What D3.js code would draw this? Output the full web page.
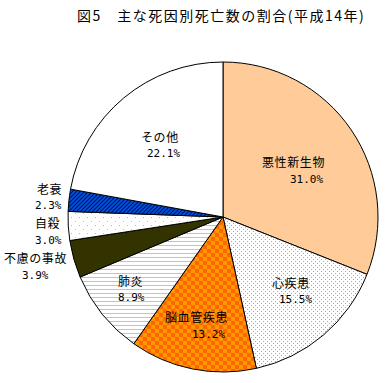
<!DOCTYPE html>
<html><head><meta charset="utf-8">
<script src="https://cdn.jsdelivr.net/npm/d3@7/dist/d3.min.js"></script>
<style>body{margin:0;background:#fff}svg{display:block}</style>
</head><body>
<script>
const title = "図5　主な死因別死亡数の割合(平成14年)";
const categories = ["悪性新生物","心疾患","脳血管疾患","肺炎","不慮の事故","自殺","老衰","その他"];
const values = [31.0, 15.5, 13.2, 8.9, 3.9, 3.0, 2.3, 22.1];
const pctLabels = ["31.0%","15.5%","13.2%","8.9%","3.9%","3.0%","2.3%","22.1%"];

// label layout (name x, name y, pct x, pct y)
const labelLayout = [
  [262,167, 290,183],
  [272,288, 279,303],
  [165,322, 192,338],
  [118,286, 118,301],
  [4,263, 22,279],
  [35,228, 35,244],
  [37,194, 35,209],
  [141,142, 147,157]
];
const fills = ["#FFCC99","url(#pDots)","url(#pCheck)","url(#pLines)","#333300","url(#pTan)","url(#pHatch)","#FFFFFF"];

const W=391,H=383, cx=223, cy=217, R=155;
const svg=d3.select("body").append("svg").attr("width",W).attr("height",H);
const defs=svg.append("defs");
// purple dots
let p=defs.append("pattern").attr("id","pDots").attr("patternUnits","userSpaceOnUse").attr("width",4).attr("height",4);
p.append("rect").attr("width",4).attr("height",4).attr("fill","#fff");
p.append("rect").attr("x",0).attr("y",0).attr("width",1).attr("height",1).attr("fill","#A89CD8");
p.append("rect").attr("x",2).attr("y",2).attr("width",1).attr("height",1).attr("fill","#A89CD8");
// checker
p=defs.append("pattern").attr("id","pCheck").attr("patternUnits","userSpaceOnUse").attr("width",8).attr("height",8);
p.append("rect").attr("width",8).attr("height",8).attr("fill","#FF9900");
p.append("rect").attr("width",4).attr("height",4).attr("fill","#FF6600");
p.append("rect").attr("x",4).attr("y",4).attr("width",4).attr("height",4).attr("fill","#FF6600");
// lines
p=defs.append("pattern").attr("id","pLines").attr("patternUnits","userSpaceOnUse").attr("width",4).attr("height",4);
p.append("rect").attr("width",4).attr("height",4).attr("fill","#fff");
p.append("rect").attr("y",0).attr("width",4).attr("height",1).attr("fill","#99CCFF");
// tan dots
p=defs.append("pattern").attr("id","pTan").attr("patternUnits","userSpaceOnUse").attr("width",8).attr("height",8);
p.append("rect").attr("width",8).attr("height",8).attr("fill","#fff");
p.append("rect").attr("x",0).attr("y",0).attr("width",1).attr("height",1).attr("fill","#FFAA55");
p.append("rect").attr("x",4).attr("y",4).attr("width",1).attr("height",1).attr("fill","#FFAA55");
// hatch
p=defs.append("pattern").attr("id","pHatch").attr("patternUnits","userSpaceOnUse").attr("width",4).attr("height",4);
p.append("rect").attr("width",4).attr("height",4).attr("fill","#0055DD");
p.append("path").attr("d","M-1,1 L1,-1 M0,4 L4,0 M3,5 L5,3").attr("stroke","#001166").attr("stroke-width",1.2);

svg.append("text").attr("x",77).attr("y",21).attr("font-family","'Noto Sans CJK JP'").attr("font-size",14).attr("letter-spacing",1.5).attr("fill","#000").text(title);

const pie=d3.pie().sort(null).value(d=>d)(values);
const arc=d3.arc().innerRadius(0).outerRadius(R);
const g=svg.append("g").attr("transform",`translate(${cx},${cy})`);
g.selectAll("path").data(pie).join("path").attr("d",arc).attr("fill",(d,i)=>fills[i]).attr("stroke","#000").attr("stroke-width",1);

const lg=svg.append("g");
categories.forEach((c,i)=>{
  const L=labelLayout[i];
  lg.append("text").attr("x",L[0]).attr("y",L[1]).attr("font-family","'Noto Sans CJK JP'").attr("font-size",12).attr("letter-spacing",0.6).attr("fill","#000").text(c);
  lg.append("text").attr("x",L[2]).attr("y",L[3]).attr("font-family","'DejaVu Sans Mono'").attr("font-size",11).attr("letter-spacing",0).attr("fill","#000").text(pctLabels[i]);
});
</script>
</body></html>
